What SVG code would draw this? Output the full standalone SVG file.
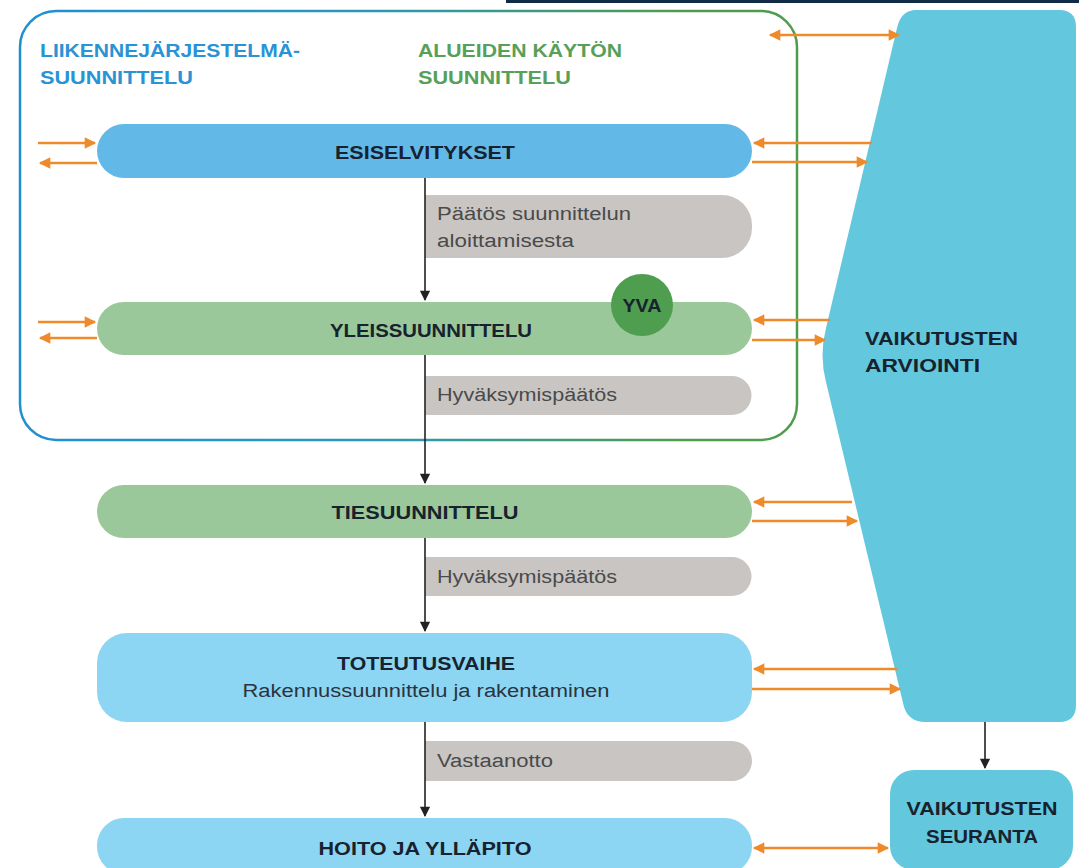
<svg xmlns="http://www.w3.org/2000/svg" width="1079" height="868" viewBox="0 0 1079 868">
<style>
.node{font-family:"Liberation Sans",Arial,sans-serif;font-weight:bold;font-size:19px;fill:#18222f}
.sub{font-family:"Liberation Sans",Arial,sans-serif;font-size:18px;fill:#2a3440}
.gl{font-family:"Liberation Sans",Arial,sans-serif;font-size:18px;fill:#4a4a4a}
.ttl{font-family:"Liberation Sans",Arial,sans-serif;font-weight:bold;font-size:19px}
.or{stroke:#ef8a2a;stroke-width:2.6;fill:none}
.bk{stroke:#222;stroke-width:1.6;fill:none}
.gray{fill:#c9c5c2}
.bluep{fill:#62b9e7}
.greenp{fill:#9bc89a}
.lightp{fill:#8dd6f3}
.cyan{fill:#63c8dd}
</style>
<defs>
<linearGradient id="fr" x1="0" y1="0" x2="1" y2="0">
<stop offset="0" stop-color="#1e90d0"/>
<stop offset="0.45" stop-color="#2a98b8"/>
<stop offset="0.85" stop-color="#4e9d4e"/>
<stop offset="1" stop-color="#4e9d4e"/>
</linearGradient>
<marker id="oa" viewBox="0 0 10 10" refX="9" refY="5" markerWidth="5.6" markerHeight="4.4" orient="auto-start-reverse" markerUnits="strokeWidth">
<path d="M0,0 L10,5 L0,10 Z" fill="#ef8a2a"/>
</marker>
<marker id="ba" viewBox="0 0 10 10" refX="9" refY="5" markerWidth="8.5" markerHeight="6.5" orient="auto" markerUnits="strokeWidth">
<path d="M0,0 L10,5 L0,10 Z" fill="#222"/>
</marker>
</defs>
<rect width="1079" height="868" fill="#ffffff"/>
<rect x="506" y="0" width="573" height="3" fill="#0f2b45"/>

<g id="frame">
<rect x="20" y="11" width="777" height="429" rx="36" fill="none" stroke="url(#fr)" stroke-width="2.5"/>
<text class="ttl" fill="#2a93d5" x="40" y="57" textLength="260" lengthAdjust="spacingAndGlyphs">LIIKENNEJÄRJESTELMÄ-</text>
<text class="ttl" fill="#2a93d5" x="40" y="84" textLength="153" lengthAdjust="spacingAndGlyphs">SUUNNITTELU</text>
<text class="ttl" fill="#58a05a" x="418" y="57" textLength="204" lengthAdjust="spacingAndGlyphs">ALUEIDEN KÄYTÖN</text>
<text class="ttl" fill="#58a05a" x="418" y="84" textLength="153" lengthAdjust="spacingAndGlyphs">SUUNNITTELU</text>
</g>

<g id="arviointi">
<path class="cyan" d="M916,10 L1059,10 Q1076,10 1076,27 L1076,705 Q1076,722 1059,722 L925,722 Q909,722 904,707 L826,382 Q819,355 826,328 L897,28 Q901,10 916,10 Z"/>
<text class="node" x="865" y="345" textLength="153" lengthAdjust="spacingAndGlyphs">VAIKUTUSTEN</text>
<text class="node" x="865" y="372" textLength="115" lengthAdjust="spacingAndGlyphs">ARVIOINTI</text>
</g>

<g id="seuranta">
<rect class="cyan" x="890" y="770" width="183" height="100" rx="24"/>
<text class="node" x="982" y="815" text-anchor="middle" textLength="151" lengthAdjust="spacingAndGlyphs">VAIKUTUSTEN</text>
<text class="node" x="982" y="843" text-anchor="middle" textLength="112" lengthAdjust="spacingAndGlyphs">SEURANTA</text>
</g>

<g id="esiselvitykset">
<rect class="bluep" x="97" y="124" width="655" height="54" rx="27"/>
<text class="node" x="425" y="159" text-anchor="middle" textLength="180" lengthAdjust="spacingAndGlyphs">ESISELVITYKSET</text>
</g>

<g id="paatos">
<path class="gray" d="M425,195 H722 A30,30 0 0 1 752,225 V228 A30,30 0 0 1 722,258 H425 Z"/>
<text class="gl" x="437" y="220" textLength="194" lengthAdjust="spacingAndGlyphs">Päätös suunnittelun</text>
<text class="gl" x="437" y="247" textLength="137" lengthAdjust="spacingAndGlyphs">aloittamisesta</text>
</g>

<g id="yleissuunnittelu">
<rect class="greenp" x="97" y="302" width="655" height="53" rx="26.5"/>
<text class="node" x="431" y="337" text-anchor="middle" textLength="202" lengthAdjust="spacingAndGlyphs">YLEISSUUNNITTELU</text>
</g>

<g id="yva">
<circle cx="642" cy="305" r="31" fill="#4f9d4f"/>
<text class="node" x="642" y="312" text-anchor="middle" textLength="39" lengthAdjust="spacingAndGlyphs">YVA</text>
</g>

<g id="hyvaksymis1">
<path class="gray" d="M425,376 H732 A19.5,19.5 0 0 1 732,415 H425 Z"/>
<text class="gl" x="437" y="401" textLength="180" lengthAdjust="spacingAndGlyphs">Hyväksymispäätös</text>
</g>

<g id="tiesuunnittelu">
<rect class="greenp" x="97" y="485" width="655" height="53" rx="26.5"/>
<text class="node" x="425" y="519" text-anchor="middle" textLength="187" lengthAdjust="spacingAndGlyphs">TIESUUNNITTELU</text>
</g>

<g id="hyvaksymis2">
<path class="gray" d="M425,557 H732 A19.5,19.5 0 0 1 732,596 H425 Z"/>
<text class="gl" x="437" y="583" textLength="180" lengthAdjust="spacingAndGlyphs">Hyväksymispäätös</text>
</g>

<g id="toteutusvaihe">
<rect class="lightp" x="97" y="633" width="655" height="89" rx="30"/>
<text class="node" x="426" y="670" text-anchor="middle" textLength="178" lengthAdjust="spacingAndGlyphs">TOTEUTUSVAIHE</text>
<text class="sub" x="426" y="697" text-anchor="middle" textLength="367" lengthAdjust="spacingAndGlyphs">Rakennussuunnittelu ja rakentaminen</text>
</g>

<g id="vastaanotto">
<path class="gray" d="M425,741 H732 A20,20 0 0 1 732,781 H425 Z"/>
<text class="gl" x="437" y="767" textLength="116" lengthAdjust="spacingAndGlyphs">Vastaanotto</text>
</g>

<g id="hoito">
<rect class="lightp" x="97" y="818" width="655" height="56" rx="27"/>
<text class="node" x="425" y="855" text-anchor="middle" textLength="213" lengthAdjust="spacingAndGlyphs">HOITO JA YLLÄPITO</text>
</g>

<g id="connectors">
<line class="bk" x1="425" y1="178" x2="425" y2="300" marker-end="url(#ba)"/>
<line class="bk" x1="425" y1="355" x2="425" y2="483" marker-end="url(#ba)"/>
<line class="bk" x1="425" y1="538" x2="425" y2="631" marker-end="url(#ba)"/>
<line class="bk" x1="425" y1="722" x2="425" y2="816" marker-end="url(#ba)"/>
<line class="bk" x1="985" y1="722" x2="985" y2="768" marker-end="url(#ba)"/>

<line class="or" x1="770" y1="35" x2="899" y2="35" marker-start="url(#oa)" marker-end="url(#oa)"/>

<line class="or" x1="38" y1="143" x2="95" y2="143" marker-end="url(#oa)"/>
<line class="or" x1="97" y1="163" x2="40" y2="163" marker-end="url(#oa)"/>
<line class="or" x1="872" y1="143" x2="754" y2="143" marker-end="url(#oa)"/>
<line class="or" x1="752" y1="162" x2="867" y2="162" marker-end="url(#oa)"/>

<line class="or" x1="38" y1="322" x2="95" y2="322" marker-end="url(#oa)"/>
<line class="or" x1="97" y1="338" x2="40" y2="338" marker-end="url(#oa)"/>
<line class="or" x1="830" y1="320" x2="754" y2="320" marker-end="url(#oa)"/>
<line class="or" x1="752" y1="340" x2="825" y2="340" marker-end="url(#oa)"/>

<line class="or" x1="852" y1="502" x2="754" y2="502" marker-end="url(#oa)"/>
<line class="or" x1="752" y1="521" x2="857" y2="521" marker-end="url(#oa)"/>

<line class="or" x1="897" y1="669" x2="754" y2="669" marker-end="url(#oa)"/>
<line class="or" x1="752" y1="689" x2="900" y2="689" marker-end="url(#oa)"/>

<line class="or" x1="754" y1="848" x2="888" y2="848" marker-start="url(#oa)" marker-end="url(#oa)"/>
</g>
</svg>
